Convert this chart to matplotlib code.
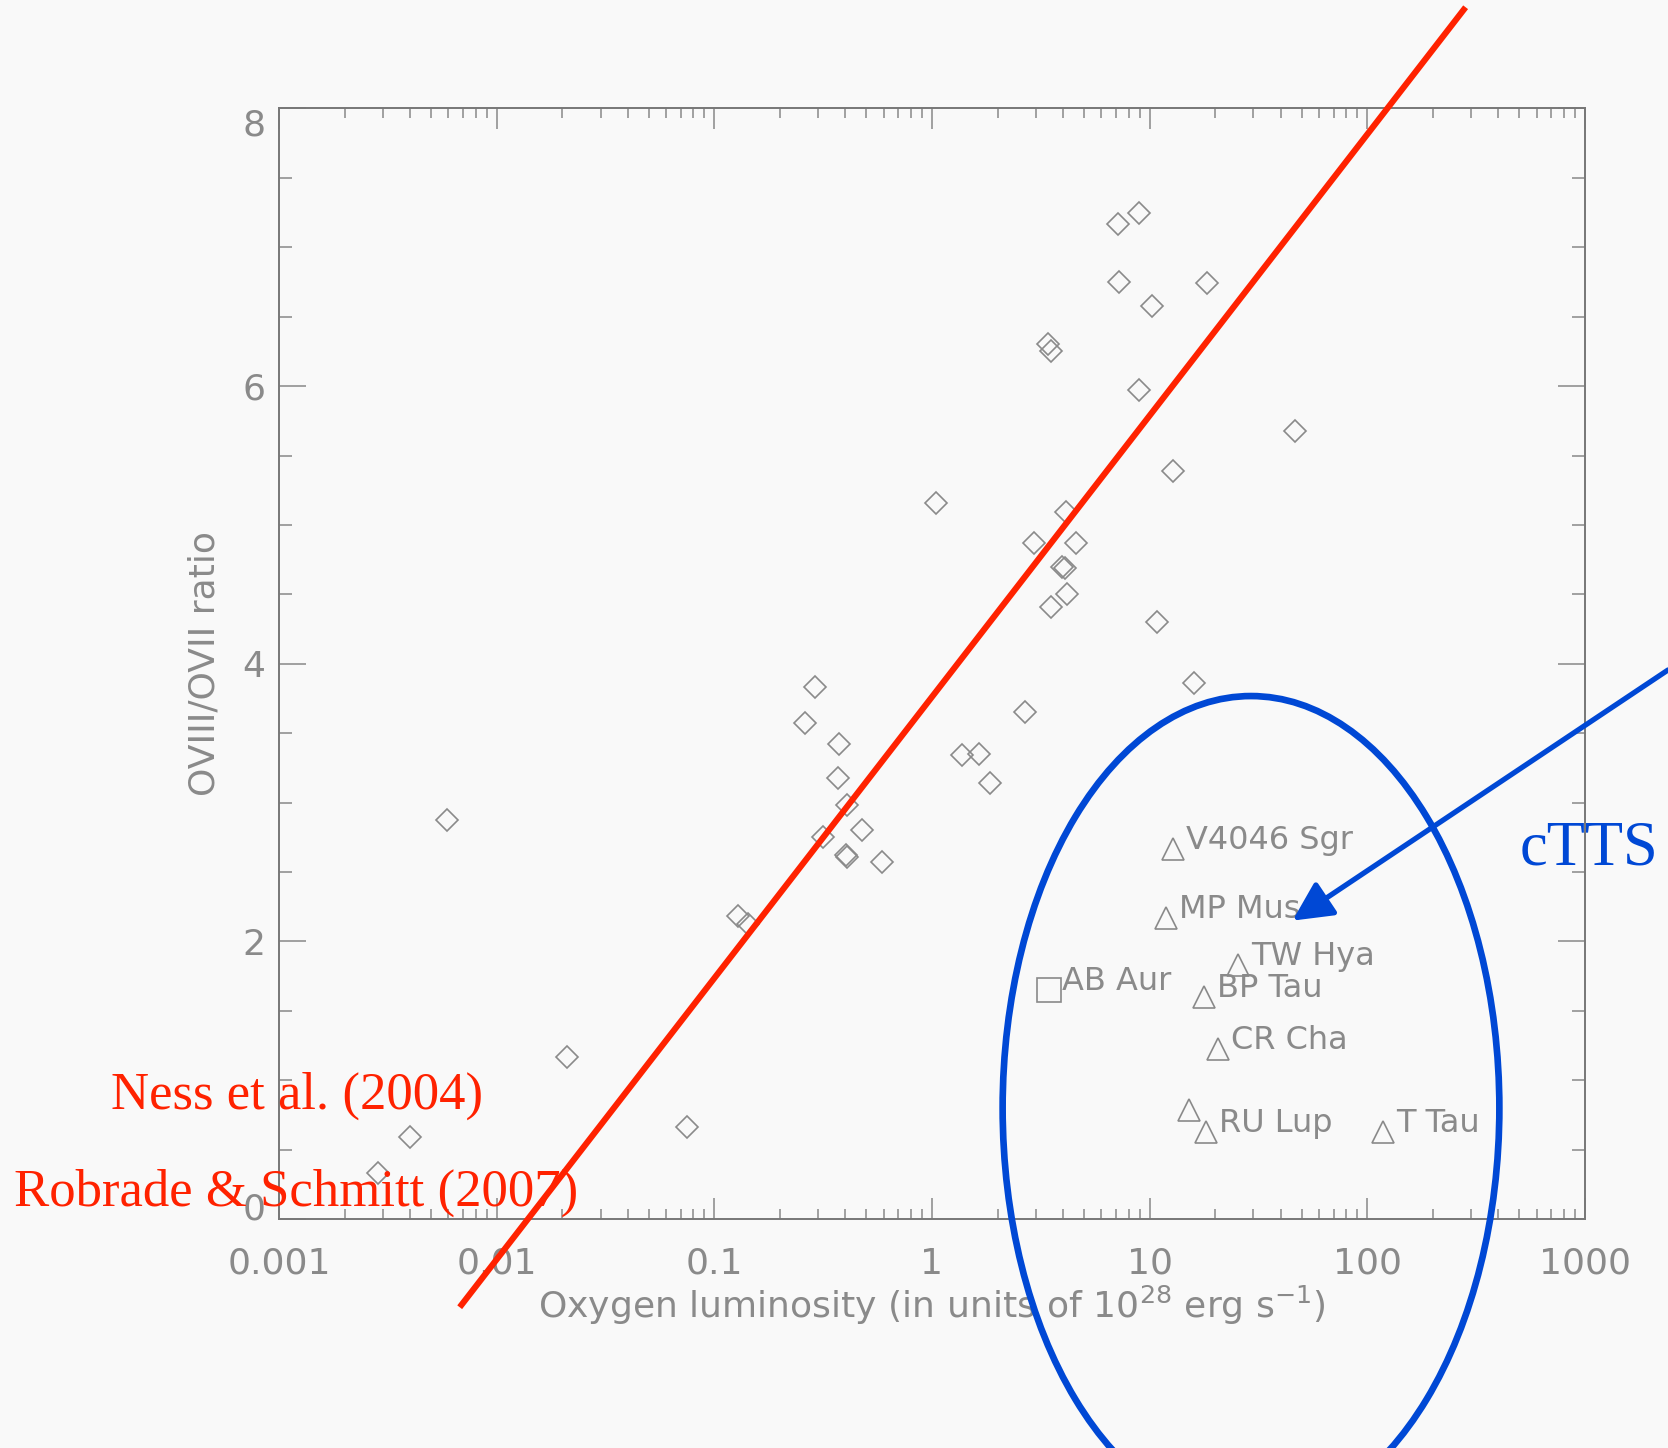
import matplotlib
matplotlib.use("Agg")
import matplotlib.pyplot as plt
from matplotlib.patches import Ellipse, FancyArrowPatch
from matplotlib.ticker import MultipleLocator, LogLocator, NullFormatter

# field stars (diamonds): oxygen luminosity in 1e28 erg/s, OVIII/OVII ratio
star_lum = [0.00589, 0.0210, 0.0040, 0.00286, 0.0747, 0.129, 0.143,
            0.290, 0.261, 0.375, 0.368, 0.408, 0.314, 0.475, 0.402, 0.406, 0.589,
            1.04, 1.37, 1.64, 1.85, 2.67, 2.94, 3.51, 3.42, 3.52, 3.94, 4.08,
            4.11, 4.18, 4.59, 7.16, 8.91, 7.21, 10.2, 8.91, 18.4, 12.8, 10.8,
            46.4, 16.0]
star_ratio = [2.875, 1.17, 0.589, 0.33, 0.665, 2.18, 2.125,
              3.83, 3.57, 3.42, 3.18, 2.98, 2.75, 2.80, 2.62, 2.61, 2.57,
              5.16, 3.34, 3.35, 3.14, 3.65, 4.87, 4.41, 6.30, 6.25, 4.70, 4.69,
              5.09, 4.50, 4.87, 7.17, 7.25, 6.75, 6.58, 5.97, 6.74, 5.39, 4.30,
              5.68, 3.86]

# classical T Tauri stars (triangles)
ctts_names = ["V4046 Sgr", "MP Mus", "TW Hya", "BP Tau", "CR Cha", "", "RU Lup", "T Tau"]
ctts_lum = [12.8, 11.9, 25.4, 17.7, 20.6, 15.2, 18.2, 117.5]
ctts_ratio = [2.666, 2.167, 1.83, 1.60, 1.225, 0.787, 0.629, 0.629]

# Herbig star (square)
haebe_names = ["AB Aur"]
haebe_lum = [3.44]
haebe_ratio = [1.65]

# ratio / luminosity relation drawn over the plot
fit_lum = [0.00676, 283.0]
fit_ratio = [-0.635, 8.729]

xticks = [0.001, 0.01, 0.1, 1, 10, 100, 1000]
xtick_labels = ["0.001", "0.01", "0.1", "1", "10", "100", "1000"]
yticks = [0, 2, 4, 6, 8]

GRAY = "#8a8a8a"
RED = "#ff2200"
BLUE = "#0048d5"
BG = "#f9f9f9"
SERIF = "Liberation Serif"

fig = plt.figure(figsize=(16.68, 14.48), dpi=100, facecolor=BG)
ax = fig.add_axes([0.1673, 0.1581, 0.7829, 0.767], facecolor=BG)

ax.plot(star_lum, star_ratio, ls="none", marker="D", ms=11.3,
        mfc="none", mec=GRAY, mew=1.2)
ax.plot(ctts_lum, ctts_ratio, ls="none", marker="^", ms=16,
        mfc="none", mec=GRAY, mew=1.2)
ax.plot(haebe_lum, haebe_ratio, ls="none", marker="s", ms=17,
        mfc="none", mec=GRAY, mew=1.2)

for name, x, y in zip(ctts_names + haebe_names, ctts_lum + haebe_lum,
                      ctts_ratio + haebe_ratio):
    if name:
        ax.annotate(name, (x, y), xytext=(9.5, 0), textcoords="offset points",
                    ha="left", va="baseline", fontsize=23, color=GRAY)

ax.plot(fit_lum, fit_ratio, color=RED, lw=4.4, clip_on=False, zorder=5,
        solid_capstyle="butt")

ax.set_xscale("log")
ax.set_xlim(1e-3, 1e3)
ax.set_ylim(0, 8)
ax.set_xticks(xticks, labels=xtick_labels)
ax.xaxis.set_minor_locator(LogLocator(base=10, subs=range(2, 10), numticks=20))
ax.xaxis.set_minor_formatter(NullFormatter())
ax.set_yticks(yticks, labels=[str(v) for v in yticks])
ax.yaxis.set_minor_locator(MultipleLocator(0.5))

ax.tick_params(which="both", direction="in", top=True, right=True,
               color="#888888", width=1.1, labelcolor=GRAY, labelsize=26)
ax.tick_params(axis="x", which="major", length=15, pad=20)
ax.tick_params(axis="x", which="minor", length=7.5)
ax.tick_params(axis="y", which="major", length=19.4, pad=10)
ax.tick_params(axis="y", which="minor", length=9.7)

# IDL style: end labels pulled inside the axis range
for lbl in ax.get_yticklabels():
    if lbl.get_text() == "8":
        lbl.set_va("top")
    elif lbl.get_text() == "0":
        lbl.set_va("baseline")

for sp in ax.spines.values():
    sp.set_color("#777777")
    sp.set_linewidth(1.4)

ax.set_xlabel(r"Oxygen luminosity (in units of 10$^{28}$ erg s$^{-1}$)",
              fontsize=26, color=GRAY)
ax.xaxis.label.set_va("baseline")
ax.xaxis.set_label_coords(0.5, -0.0891)
ax.set_ylabel("OVIII/OVII ratio", fontsize=26, color=GRAY)
ax.yaxis.set_label_coords(-0.0444, 0.5)

fig.text(0.0663, 0.2341, "Ness et al. (2004)", family=SERIF, fontsize=38,
         color=RED, va="baseline", zorder=6)
fig.text(0.0083, 0.1671, "Robrade & Schmitt (2007)", family=SERIF, fontsize=38,
         color=RED, va="baseline", zorder=6)
fig.text(0.9113, 0.4033, "cTTS", family=SERIF, fontsize=45, color=BLUE,
         va="baseline")

fig.add_artist(Ellipse((0.75, 0.2348), 0.2978, 0.569, transform=fig.transFigure,
                       fill=False, ec=BLUE, lw=4.8, zorder=10))
fig.add_artist(FancyArrowPatch((1.0, 0.5373), (0.7749, 0.3642),
                               transform=fig.transFigure,
                               arrowstyle="-|>,head_length=24,head_width=12",
                               mutation_scale=1, shrinkA=0, shrinkB=0,
                               color=BLUE, lw=3.8, zorder=10))

fig.savefig("out.png", dpi=100, facecolor=BG)
